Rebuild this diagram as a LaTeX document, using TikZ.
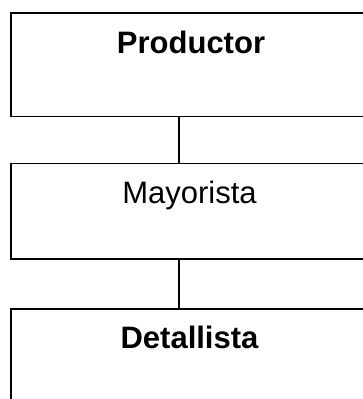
\documentclass[tikz,border=0pt]{standalone}
\usepackage{fontspec}
\setmainfont{Liberation Sans}
\tikzset{
  box/.style={draw=black, line width=1.7pt, fill=white, minimum width=360pt, anchor=north west, inner sep=0pt},
  lbl/.style={anchor=base, inner sep=0pt, font=\fontsize{31}{36}\selectfont},
  conn/.style={draw=black, line width=1.7pt}
}
\begin{document}
\begin{tikzpicture}[x=1pt,y=1pt]
\useasboundingbox (0,0) rectangle (363,-399);
\clip (0,0) rectangle (363,-399);
\node[box, minimum height=103.7pt] (b1) at (10,-12) {};
\node[box, minimum height=95.6pt] (b2) at (10,-162.7) {};
\node[box, minimum height=120pt] (b3) at (10,-308.3) {};
\node[lbl, font=\fontsize{31}{36}\selectfont\bfseries] (t1) at (191,-53.3) {Productor};
\node[lbl] (t2) at (189.5,-203.3) {Mayorista};
\node[lbl, font=\fontsize{31}{36}\selectfont\bfseries] (t3) at (189.5,-348.3) {Detallista};
\draw[conn] ([xshift=-11.7pt]b1.south) -- ([xshift=-11.7pt]b2.north);
\draw[conn] ([xshift=-11.7pt]b2.south) -- ([xshift=-11.7pt]b3.north);
\end{tikzpicture}
\end{document}
